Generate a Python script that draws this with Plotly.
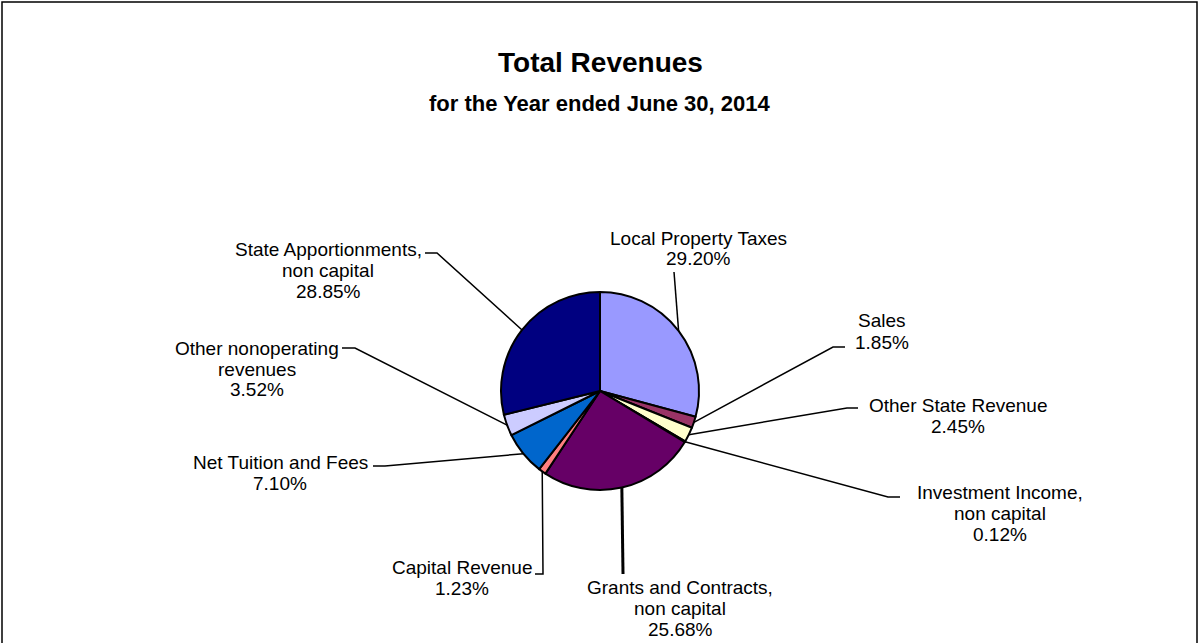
import math
import plotly.graph_objects as go

# ---------------- data ----------------
categories = [
    "Local Property Taxes",
    "Sales",
    "Other State Revenue",
    "Investment Income, non capital",
    "Grants and Contracts, non capital",
    "Capital Revenue",
    "Net Tuition and Fees",
    "Other nonoperating revenues",
    "State Apportionments, non capital",
]
label_lines = [
    ["Local Property Taxes"],
    ["Sales"],
    ["Other State Revenue"],
    ["Investment Income,", "non capital"],
    ["Grants and Contracts,", "non capital"],
    ["Capital Revenue"],
    ["Net Tuition and Fees"],
    ["Other nonoperating", "revenues"],
    ["State Apportionments,", "non capital"],
]
shares = [29.20, 1.85, 2.45, 0.12, 25.68, 1.23, 7.10, 3.52, 28.85]
pct_labels = ["29.20%", "1.85%", "2.45%", "0.12%", "25.68%", "1.23%", "7.10%", "3.52%", "28.85%"]

# ---------------- styles / layout ----------------
colors = ["#9999FF", "#993366", "#FFFFCC", "#CCFFFF", "#660066",
          "#FF8080", "#0066CC", "#CCCCFF", "#000080"]
W, H = 1200, 643
CX, CY, R = 600, 391, 99            # pie centre / radius in px
FONT = "Liberation Sans, Arial, sans-serif"
LABEL_SIZE = 19
PITCH = 21

# first-line centre of each label (px)
label_pos = [(698, 238), (882, 321), (958, 405), (1000, 492), (680, 587),
             (462, 567), (280, 462), (257, 348), (328, 249)]
# leader-line points after the slice edge (px)
leader_pts = [
    [(674, 272)],
    [(833, 347), (845, 347)],
    [(847, 408), (858, 408)],
    [(888, 497), (900, 497)],
    [(623, 574)],
    [(543, 574), (535, 574)],
    [(385, 466), (373, 466)],
    [(355, 348), (342, 348)],
    [(437, 253), (425, 253)],
]
leader_w = [1.5, 1.5, 1.5, 1.5, 3, 1.5, 1.5, 1.5, 1.5]


def px(x):
    return x / W


def py(y):
    return 1 - y / H


fig = go.Figure(go.Pie(
    labels=categories,
    values=shares,
    sort=False,
    direction="clockwise",
    rotation=0,
    marker=dict(colors=colors, line=dict(color="black", width=2)),
    textinfo="none",
    hoverinfo="label+percent",
    showlegend=False,
    domain=dict(x=[px(CX - R), px(CX + R)], y=[py(CY + R), py(CY - R)]),
))

shapes = []
annotations = []

# chart border
shapes.append(dict(type="rect", xref="paper", yref="paper",
                   x0=px(2), x1=px(1197), y0=py(2), y1=py(660),
                   line=dict(color="black", width=1.5), fillcolor="rgba(0,0,0,0)"))

total = sum(shares)
cum = 0.0
for i, v in enumerate(shares):
    mid = (cum + v / 2) / total * 2 * math.pi
    cum += v
    ex = CX + R * math.sin(mid)
    ey = CY - R * math.cos(mid)
    pts = [(ex, ey)] + leader_pts[i]
    path = "M " + " L ".join(f"{px(a):.5f},{py(b):.5f}" for a, b in pts)
    shapes.append(dict(type="path", xref="paper", yref="paper", path=path,
                       line=dict(color="black", width=leader_w[i])))
    lx, ly = label_pos[i]
    lines = label_lines[i] + [pct_labels[i]]
    for k, t in enumerate(lines):
        annotations.append(dict(
            x=px(lx), y=py(ly + k * PITCH), xref="paper", yref="paper",
            text=t, showarrow=False, xanchor="center", yanchor="middle",
            font=dict(family=FONT, size=LABEL_SIZE, color="black")))

annotations.append(dict(x=0.5, y=py(63), xref="paper", yref="paper",
                        text="<b>Total Revenues</b>", showarrow=False,
                        xanchor="center", yanchor="middle",
                        font=dict(family=FONT, size=28, color="black")))
annotations.append(dict(x=0.5, y=py(103), xref="paper", yref="paper",
                        text="<b>for the Year ended June 30, 2014</b>", showarrow=False,
                        xanchor="center", yanchor="middle",
                        font=dict(family=FONT, size=22, color="black")))

fig.update_layout(
    width=W, height=H,
    margin=dict(l=0, r=0, t=0, b=0),
    paper_bgcolor="white", plot_bgcolor="white",
    shapes=shapes, annotations=annotations,
)

fig.write_html("out.html", config={"displayModeBar": False},
               post_script="document.body.style.margin='0';")
